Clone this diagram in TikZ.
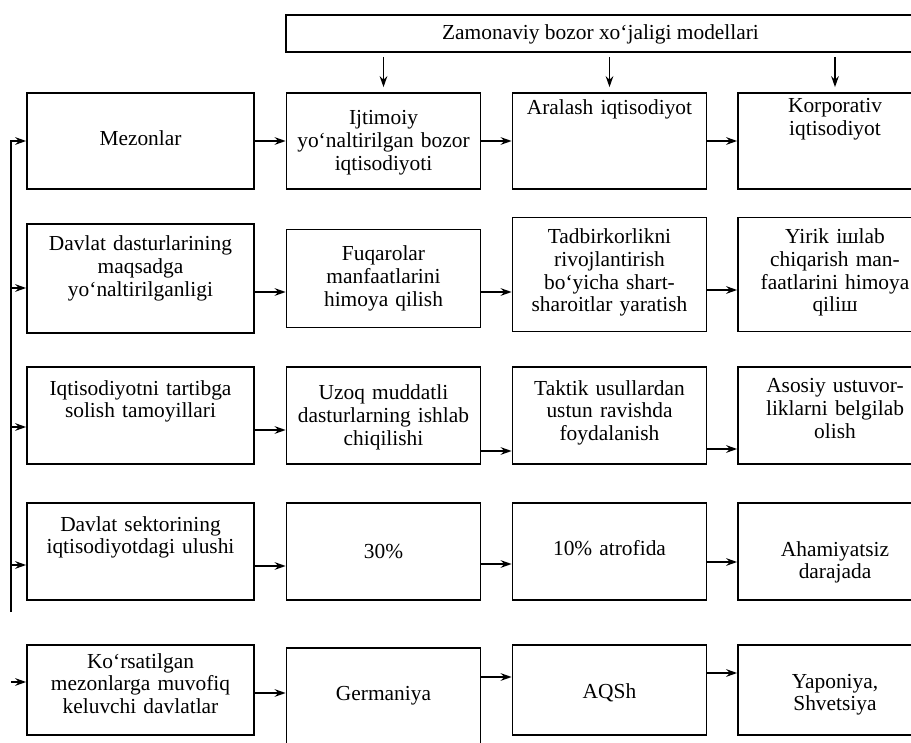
\documentclass[tikz,border=0pt]{standalone}
\usepackage{fontspec}
\setmainfont{Liberation Serif}
\usepackage{tikz}
\usetikzlibrary{arrows.meta}
\tikzset{
  box/.style={
    rectangle,
    inner xsep=2pt,
    inner ysep=0pt,
    align=center,
    draw=black,
    line width=0.85pt,
    font=\fontsize{10.7}{11.4}\selectfont
    },
  crit/.style={
    box,
    minimum width=113.5pt,
    text width=109.5pt
    },
  model/.style={
    box,
    minimum width=97pt,
    text width=93pt
    },
  head/.style={
    box,
    minimum width=314.5pt
    },
  tx/.style 2 args={text height=#1, text depth=#2},
  arrow/.style={line width=0.85pt,->,>={Stealth[length=5.5pt,width=3.8pt]}},
  pil/.style={
    arrow,
    shorten <=2pt,
    shorten >=2.5pt}
}
\begin{document}
\begin{tikzpicture}[node distance=60pt]
\useasboundingbox (0,0) rectangle (455.5pt,-371.5pt);
\clip (0,0) rectangle (455.5pt,-371.5pt);
% criteria column
\node (m1) [crit,tx={26.5pt}{21.5pt}] at (70.25pt,-70.5pt) {Mezonlar};
\node (d1) [crit,tx={13.5pt}{41pt},below of=m1,yshift=-8.75pt] {Davlat dasturlarining\\maqsadga\\yo‘naltirilganligi};
\node (q1) [crit,tx={14pt}{34.5pt},below of=d1,yshift=-8.5pt] {Iqtisodiyotni tartibga\\solish tamoyillari};
\node (s1) [crit,tx={14pt}{34.5pt},below of=q1,yshift=-8pt] {Davlat sektorining\\iqtisodiyotdagi ulushi};
\node (k5) [crit,tx={11.5pt}{33.5pt},below of=s1,yshift=-9.25pt] {Ko‘rsatilgan\\mezonlarga muvofiq\\keluvchi davlatlar};
% models
\node (i1) [model,tx={16pt}{32pt},right of=m1,xshift=61.5pt] {Ijtimoiy\\yo‘naltirilgan bozor\\iqtisodiyoti};
\node (a1) [model,tx={11pt}{37pt},right of=i1,xshift=53pt] {Aralash iqtisodiyot};
\node (k1) [model,tx={10pt}{38pt},right of=a1,xshift=52.75pt] {Korporativ\\iqtisodiyot};
\node (f1) [model,tx={15.5pt}{33.5pt},right of=d1,xshift=61.5pt] {Fuqarolar\\manfaatlarini\\himoya qilish};
\node (t1) [model,tx={13pt}{44pt},right of=f1,xshift=53pt,yshift=2pt] {Tadbirkorlikni\\rivojlantirish\\bo‘yicha shart-\\sharoitlar yaratish};
\node (y1) [model,tx={13pt}{44pt},right of=t1,xshift=52.75pt] {Yirik iшlab\\chiqarish man-\\faatlarini himoya\\qiliш};
\node (u1) [model,tx={16.5pt}{32pt},right of=q1,xshift=61.5pt] {Uzoq muddatli\\dasturlarning ishlab\\chiqilishi};
\node (tk1) [model,tx={14pt}{34.5pt},right of=u1,xshift=53pt] {Taktik usullardan\\ustun ravishda\\foydalanish};
\node (as1) [model,tx={13pt}{35.5pt},right of=tk1,xshift=52.75pt] {Asosiy ustuvor-\\liklarni belgilab\\olish};
\node (p30) [model,tx={27.5pt}{21pt},right of=s1,xshift=61.5pt] {30\%};
\node (p10) [model,tx={26pt}{22.5pt},right of=p30,xshift=53pt] {10\% atrofida};
\node (ah) [model,tx={26.5pt}{22pt},right of=p10,xshift=52.75pt] {Ahamiyatsiz\\darajada};
\node (g5) [model,tx={26pt}{24pt},right of=k5,xshift=61.5pt,yshift=-4pt] {Germaniya};
\node (aq5) [model,tx={26.5pt}{18.5pt},right of=g5,xshift=53pt,yshift=4pt] {AQSh};
\node (yp5) [model,tx={21.5pt}{23.5pt},right of=aq5,xshift=52.75pt] {Yaponiya,\\Shvetsiya};
\node (hdr) [head,tx={12.5pt}{6pt},above of=i1,xshift=108.5pt,yshift=-6.25pt] {Zamonaviy bozor xo‘jaligi modellari};
% down arrows
\draw[pil] (hdr.south -| i1.north) -- (i1.north);
\draw[pil] (hdr.south -| a1.north) -- (a1.north);
\draw[pil] (hdr.south -| k1.north) -- (k1.north);
% left rail
\coordinate (lb) at ([xshift=-7.5pt,yshift=-30.25pt]s1.west);
\draw[arrow] (lb) |- (m1.west);
\draw[arrow] ([xshift=-7.5pt,yshift=-4.75pt]d1.west) -- ([yshift=-4.75pt]d1.west);
\draw[arrow] ([xshift=-7.5pt,yshift=-5.75pt]q1.west) -- ([yshift=-5.75pt]q1.west);
\draw[arrow] ([xshift=-7.5pt,yshift=-6.75pt]s1.west) -- ([yshift=-6.75pt]s1.west);
\draw[arrow] ([xshift=-7.5pt,yshift=4pt]k5.west) -- ([yshift=4pt]k5.west);
% rows
\draw[arrow] (m1) -- (i1);
\draw[arrow] (i1) -- (a1);
\draw[arrow] (a1) -- (k1);
\draw[arrow] ([yshift=-6.75pt]d1.east) -- ([yshift=-6.75pt]f1.west);
\draw[arrow] ([yshift=-6.75pt]f1.east) -- ([yshift=-8.75pt]t1.west);
\draw[arrow] ([yshift=-7.75pt]t1.east) -- ([yshift=-7.75pt]y1.west);
\draw[arrow] ([yshift=-7.25pt]q1.east) -- ([yshift=-7.25pt]u1.west);
\draw[arrow] ([yshift=-17.75pt]u1.east) -- ([yshift=-17.75pt]tk1.west);
\draw[arrow] ([yshift=-16.75pt]tk1.east) -- ([yshift=-16.75pt]as1.west);
\draw[arrow] ([yshift=-7.25pt]s1.east) -- ([yshift=-7.25pt]p30.west);
\draw[arrow] ([yshift=-6.25pt]p30.east) -- ([yshift=-6.25pt]p10.west);
\draw[arrow] ([yshift=-5.25pt]p10.east) -- ([yshift=-5.25pt]ah.west);
\draw[arrow] ([yshift=-1.5pt]k5.east) -- ([yshift=2.5pt]g5.west);
\draw[arrow] ([yshift=10.5pt]g5.east) -- ([yshift=6.5pt]aq5.west);
\draw[arrow] ([yshift=8.5pt]aq5.east) -- ([yshift=8.5pt]yp5.west);
\end{tikzpicture}
\end{document}
